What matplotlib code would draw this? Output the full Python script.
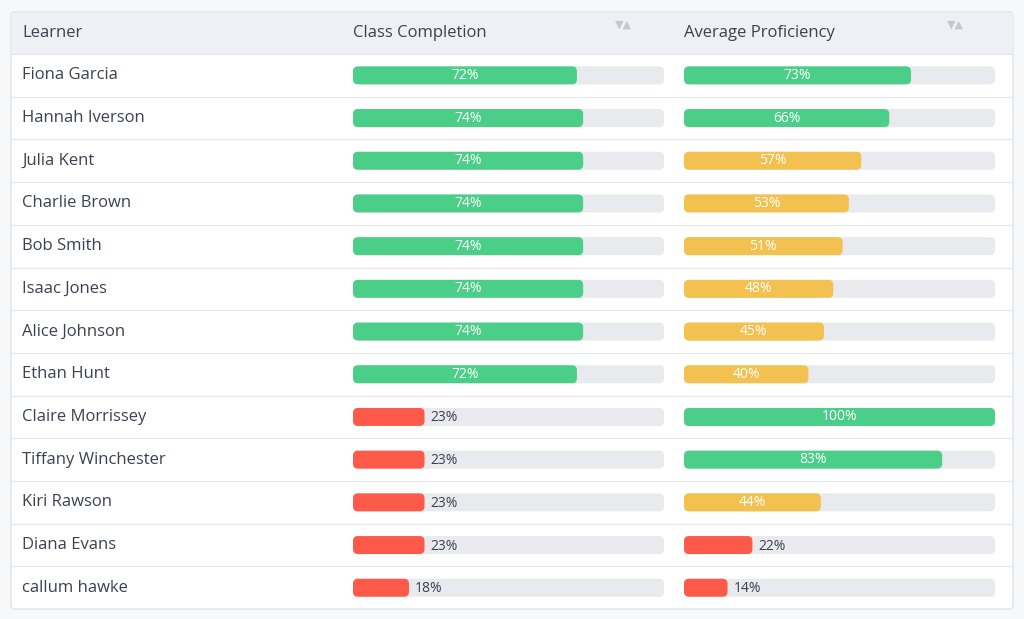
import matplotlib.pyplot as plt
from matplotlib.patches import FancyBboxPatch, Rectangle

learners = ['Fiona Garcia', 'Hannah Iverson', 'Julia Kent', 'Charlie Brown', 'Bob Smith',
            'Isaac Jones', 'Alice Johnson', 'Ethan Hunt', 'Claire Morrissey',
            'Tiffany Winchester', 'Kiri Rawson', 'Diana Evans', 'callum hawke']
completion = [72, 74, 74, 74, 74, 74, 74, 72, 23, 23, 23, 23, 18]
proficiency = [73, 66, 57, 53, 51, 48, 45, 40, 100, 83, 44, 22, 14]
headers = ['Learner', 'Class Completion', 'Average Proficiency']

GREEN, YELLOW, RED, TRACK = '#4bce87', '#f2c14f', '#fd5a4a', '#e9eaee'
TXT = '#3a4250'

def color_for(v):
    if v >= 60:
        return GREEN
    if v >= 40:
        return YELLOW
    return RED

fig = plt.figure(figsize=(10.24, 6.19), dpi=100)
ax = fig.add_axes([0, 0, 1, 1])
ax.set_xlim(0, 1024)
ax.set_ylim(619, 0)
ax.axis('off')
fig.patch.set_facecolor('#f7f8fa')

# table box + header
ax.add_patch(FancyBboxPatch((11, 12), 1002, 597, boxstyle='round,pad=0,rounding_size=4',
                            fc='white', ec='#dfe2e8', lw=1))
ax.add_patch(Rectangle((11.5, 12.5), 1001, 41.5, fc='#eef0f5', ec='none'))
font = 'Open Sans'
hy = 33
ax.text(22, hy, headers[0], va='center', fontsize=12, color=TXT, family=font)
ax.text(353, hy, headers[1], va='center', fontsize=12, color=TXT, family=font)
ax.text(684, hy, headers[2], va='center', fontsize=12, color=TXT, family=font)
for sx in [623, 955]:
    ax.text(sx, 25, '▼▲', va='center', ha='center', fontsize=8, color='#c4c8cf', family='DejaVu Sans')

top, rh = 54, 42.7
col_x = [353, 684]
bw, bh = 311, 18
for i, name in enumerate(learners):
    y0 = top + i * rh
    yc = y0 + rh / 2
    ax.plot([11.5, 1012.5], [y0, y0], color='#e3e6eb', lw=0.8)
    ax.text(22, yc, name, va='center', fontsize=12, color=TXT, family=font)
    for x0, v in zip(col_x, [completion[i], proficiency[i]]):
        ax.add_patch(FancyBboxPatch((x0, yc - bh / 2), bw, bh,
                                    boxstyle='round,pad=0,rounding_size=5', fc=TRACK, ec='none'))
        w = bw * v / 100
        ax.add_patch(FancyBboxPatch((x0, yc - bh / 2), w, bh,
                                    boxstyle='round,pad=0,rounding_size=5', fc=color_for(v), ec='none'))
        if v >= 30:
            ax.text(x0 + w / 2, yc, f'{v}%', ha='center', va='center', fontsize=10,
                    color='white', family=font)
        else:
            ax.text(x0 + w + 6, yc + 1, f'{v}%', ha='left', va='center', fontsize=10,
                    color=TXT, family=font)

fig.savefig('out.png', dpi=100, facecolor=fig.get_facecolor())
